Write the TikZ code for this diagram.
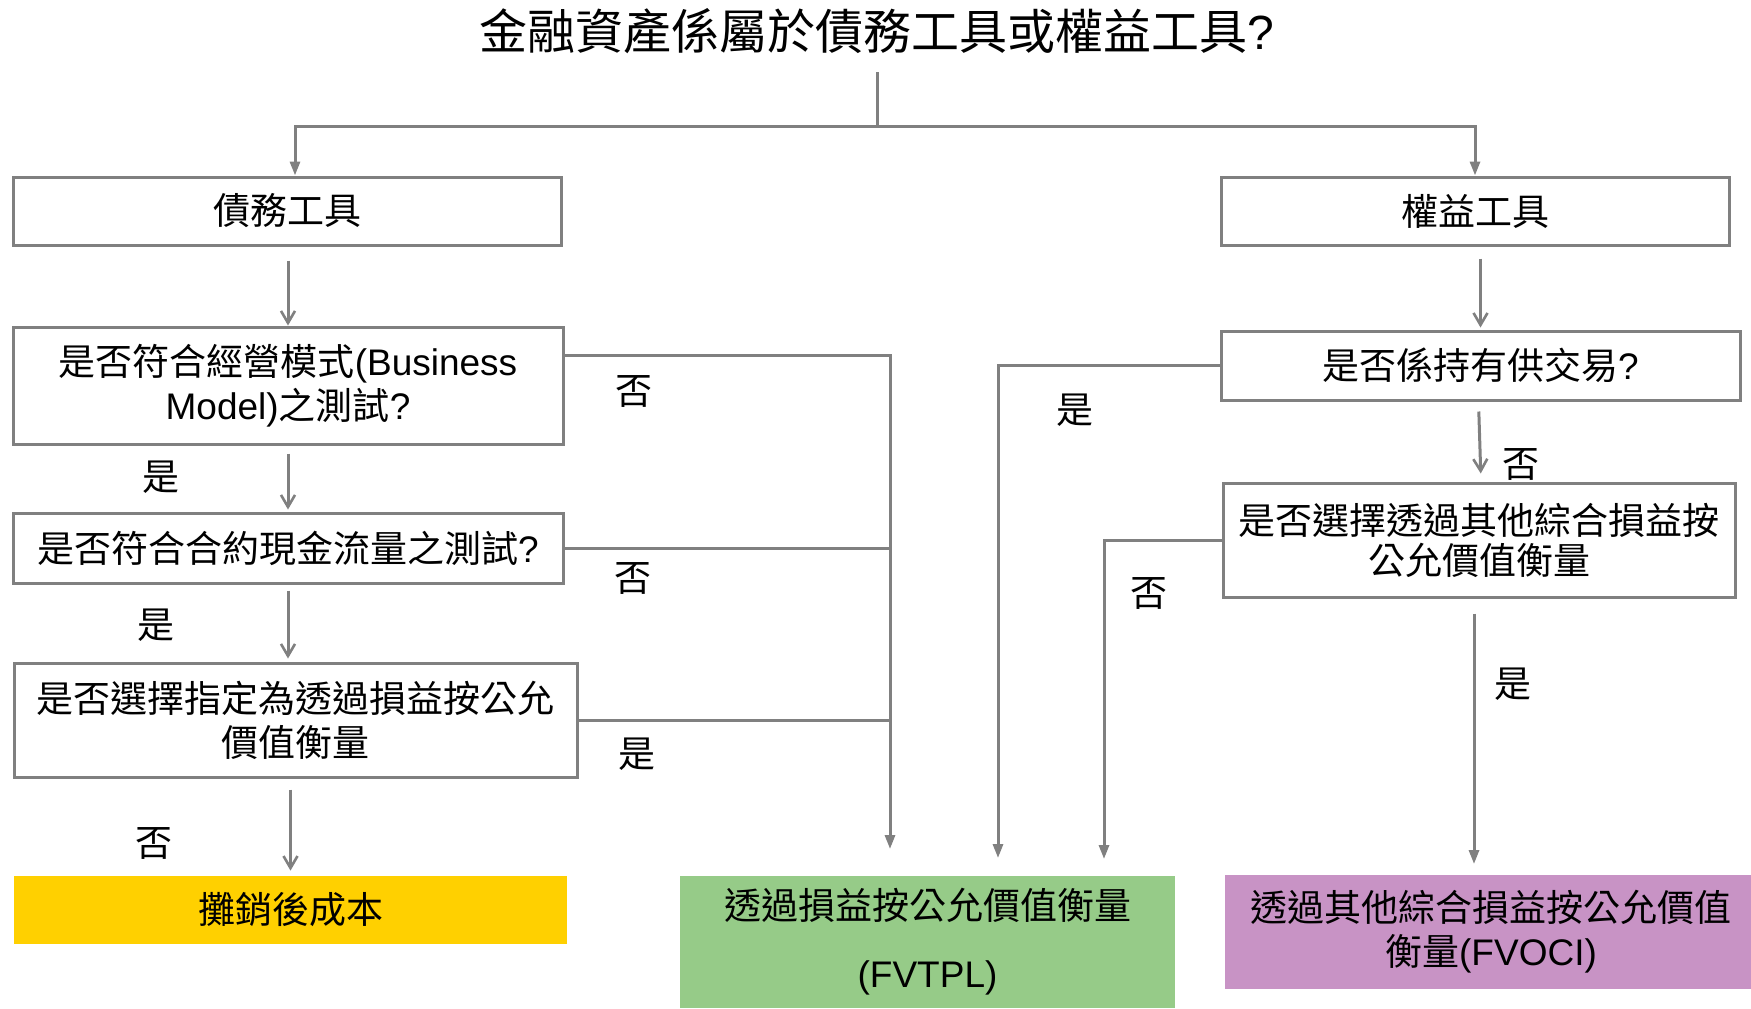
\documentclass[tikz,border=0pt]{standalone}
\usepackage{fontspec}
\setmainfont{Noto Sans CJK TC}
\newfontfamily\lat{Liberation Sans}
\usetikzlibrary{arrows.meta}
\definecolor{lc}{HTML}{808080}
\definecolor{yel}{HTML}{FFD000}
\definecolor{grn}{HTML}{96CB88}
\definecolor{pur}{HTML}{C893C5}
\tikzset{
  body/.style={font=\fontsize{18.5}{22}\selectfont},
  box/.style={draw=lc, line width=1.5pt, fill=white, inner sep=0pt, align=center, body},
  res/.style={draw=none, inner sep=0pt, align=center, body},
  conn/.style={draw=lc, line width=1.5pt},
  tri/.style={conn, -{Triangle[length=7pt,width=5pt]}},
  barb/.style={conn, -{Straight Barb[length=6pt,width=7pt,line width=1.3pt]}},
  lbl/.style={inner sep=0pt, body}
}
\begin{document}
\begin{tikzpicture}[x=0.5pt,y=-0.5pt]
\useasboundingbox (0,0) rectangle (1751,1008);
% title
\node[inner sep=0pt, font=\fontsize{24}{28}\selectfont] (t) at (877,31) {金融資產係屬於債務工具或權益工具{\lat ?}};
% boxes
\node[box, minimum width=274pt, minimum height=34pt] (A) at (287,211) {債務工具};
\node[box, minimum width=254pt, minimum height=34pt] (B) at (1475,211) {權益工具};
\node[box, minimum width=275pt, minimum height=58.5pt] (C) at (288,385.5) {是否符合經營模式{\lat (Business}\\{\lat Model)}之測試{\lat ?}};
\node[box, minimum width=275pt, minimum height=35pt] (D) at (288,548) {是否符合合約現金流量之測試{\lat ?}};
\node[box, minimum width=281.5pt, minimum height=57pt] (E) at (295.5,720) {是否選擇指定為透過損益按公允\\價值衡量};
\node[res, fill=yel, minimum width=276.5pt, minimum height=34pt] (F) at (290.5,910) {攤銷後成本};
\node[res, fill=grn, minimum width=247.5pt, minimum height=66pt] (G) at (927.5,942) {透過損益按公允價值衡量\\[12pt]{\lat (FVTPL)}};
\node[res, fill=pur, minimum width=263pt, minimum height=57pt] (H) at (1488,932) {\hspace*{3pt}透過其他綜合損益按公允價值\\\hspace*{3pt}衡量{\lat (FVOCI)}};
\node[box, minimum width=259.5pt, minimum height=34.5pt] (I) at (1480.5,365.5) {是否係持有供交易{\lat ?}};
\node[box, minimum width=256pt, minimum height=57pt, font=\fontsize{18.5}{20}\selectfont] (J) at (1479,540) {是否選擇透過其他綜合損益按\\公允價值衡量};
% coordinates
\coordinate (tstem) at (877,72);
\coordinate (split) at (877,126);
\coordinate (gin1) at (890,849);
\coordinate (gin2) at (998,858);
\coordinate (gin3) at (1104,859);
\coordinate (hin) at (1474,864);
% connectors
\draw[conn] (tstem) -- (split);
\draw[tri] (split) -| ([xshift=4pt]A.north);
\draw[tri] (split) -| (B.north);
\draw[barb, shorten <=7pt] (A.south -| C.north) -- (C.north);
\draw[barb, shorten <=4pt, shorten >=1pt] (C.south) -- (D.north);
\draw[barb, shorten <=3pt, shorten >=1.5pt] (D.south) -- (D.south |- E.north);
\draw[barb, shorten <=5.5pt, shorten >=2.5pt] (E.south -| F.north) -- (F.north);
\draw[tri] (C.east |- 0,355) -| (gin1);
\draw[conn] (D.east) -- (D.east -| gin1);
\draw[conn] (E.east) -- (E.east -| gin1);
\draw[tri] (I.west) -| (gin2);
\draw[tri] (J.west) -| (gin3);
\draw[tri, shorten <=7.5pt] (J.south -| hin) -- (hin);
\draw[barb, shorten <=6pt, shorten >=1pt] (B.south -| I.north) -- (I.north);
\draw[barb, shorten <=5pt, shorten >=4pt] ([xshift=-1pt]I.south) -- ([xshift=1pt]J.north);
% labels
\node[lbl] (l1) at (634,391) {否};
\node[lbl] (l2) at (633,578) {否};
\node[lbl] (l3) at (637,754) {是};
\node[lbl] (l4) at (161,477) {是};
\node[lbl] (l5) at (156,625) {是};
\node[lbl] (l6) at (154,843) {否};
\node[lbl] (l7) at (1075,410) {是};
\node[lbl] (l8) at (1521,464) {否};
\node[lbl] (l9) at (1149,593) {否};
\node[lbl] (l10) at (1513,684) {是};
\end{tikzpicture}
\end{document}
